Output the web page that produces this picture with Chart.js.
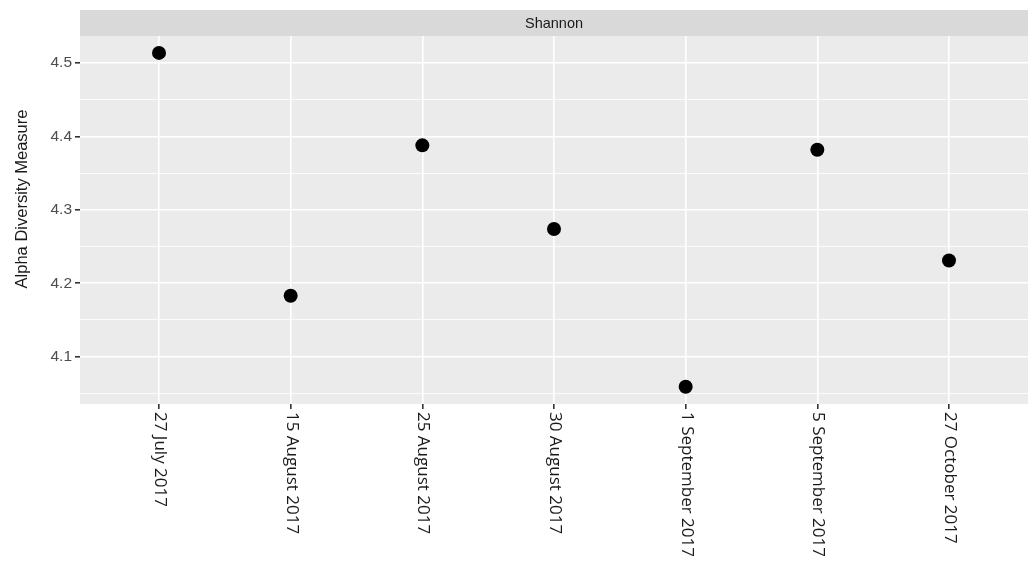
<!DOCTYPE html>
<html>
<head>
<meta charset="utf-8">
<script src="https://cdn.jsdelivr.net/npm/chart.js@4/dist/chart.umd.min.js"></script>
<style>
  html, body { margin: 0; padding: 0; background: #fff; }
  canvas { display: block; }
</style>
</head>
<body>
<canvas id="alphaChart" width="1035" height="562"></canvas>
<script>
// Sampling dates and Shannon diversity per date
const sampleDates = ['27 July 2017', '15 August 2017', '25 August 2017', '30 August 2017',
    '1 September 2017', '5 September 2017', '27 October 2017'];
const shannonValues = [4.514, 4.183, 4.388, 4.274, 4.059, 4.382, 4.231];
const yTicks = [4.1, 4.2, 4.3, 4.4, 4.5];
const facetLabel = 'Shannon';
const yTitle = 'Alpha Diversity Measure';

// minor grid halfway between the major ticks (ggplot style)
const yMinor = [4.05].concat(yTicks.slice(0, -1).map(v => +(v + 0.05).toFixed(2)));
const isMajor = v => yTicks.some(t => Math.abs(t - v) < 1e-6);
const sans = '"Liberation Sans", Arial, sans-serif';

// panel background, facet strip, y title and top-to-bottom date labels
const ggPanel = {
    id: 'ggPanel',
    beforeDraw(chart) {
        const { ctx, chartArea: a } = chart;
        ctx.save();
        ctx.fillStyle = '#ebebeb';
        ctx.fillRect(a.left, a.top, a.right - a.left, a.bottom - a.top);
        ctx.fillStyle = '#d9d9d9';
        ctx.fillRect(a.left, 10, a.right - a.left, a.top - 10);
        ctx.fillStyle = '#1a1a1a';
        ctx.font = '14.5px ' + sans;
        ctx.textAlign = 'center';
        ctx.textBaseline = 'middle';
        ctx.fillText(facetLabel, (a.left + a.right) / 2, (10 + a.top) / 2 + 1);

        ctx.font = '16.5px ' + sans;
        ctx.translate(22, 199);
        ctx.rotate(-Math.PI / 2);
        ctx.fillText(yTitle, 0, 0);
        ctx.restore();
    },
    afterDraw(chart) {
        const { ctx, chartArea: a } = chart;
        const xs = chart.scales.x;
        ctx.save();
        ctx.fillStyle = '#1a1a1a';
        ctx.font = '17px "Open Sans", "DejaVu Sans", sans-serif';
        ctx.textAlign = 'left';
        ctx.textBaseline = 'middle';
        sampleDates.forEach((d, i) => {
            ctx.save();
            ctx.translate(xs.getPixelForValue(i) + 1, a.bottom + 8);
            ctx.rotate(Math.PI / 2);
            ctx.fillText(d, 0, 0);
            ctx.restore();
        });
        ctx.restore();
    }
};

new Chart(document.getElementById('alphaChart').getContext('2d'), {
    type: 'scatter',
    data: {
        datasets: [{
            data: shannonValues.map((v, i) => ({ x: i, y: v })),
            backgroundColor: '#000',
            borderWidth: 0,
            pointRadius: 7,
            pointHoverRadius: 7
        }]
    },
    options: {
        responsive: false,
        devicePixelRatio: 1,
        animation: false,
        events: [],
        layout: { padding: { top: 36, right: 7, bottom: 0, left: 0 } },
        plugins: { legend: { display: false }, tooltip: { enabled: false } },
        scales: {
            x: {
                type: 'linear',
                min: -0.6,
                max: sampleDates.length - 0.4,
                afterBuildTicks: s => { s.ticks = sampleDates.map((d, i) => ({ value: i })); },
                afterFit: s => { s.height = 158; },
                ticks: { display: false },
                border: { display: false },
                grid: { color: '#ffffff', lineWidth: 1.6, tickColor: '#333333', tickLength: 5 }
            },
            y: {
                min: 4.0355,
                max: 4.537,
                afterBuildTicks: s => {
                    s.ticks = yTicks.concat(yMinor).sort((a, b) => a - b).map(v => ({ value: v }));
                },
                afterFit: s => { s.width = 80; },
                border: { display: false },
                grid: {
                    color: '#ffffff',
                    lineWidth: c => isMajor(c.tick.value) ? 1.6 : 0.8,
                    tickColor: c => isMajor(c.tick.value) ? '#333333' : 'rgba(0,0,0,0)',
                    tickLength: 5
                },
                ticks: {
                    color: '#4d4d4d',
                    font: { family: sans, size: 15.5 },
                    padding: 3,
                    callback: v => isMajor(v) ? v.toFixed(1) : ''
                }
            }
        }
    },
    plugins: [ggPanel]
});
</script>
</body>
</html>
